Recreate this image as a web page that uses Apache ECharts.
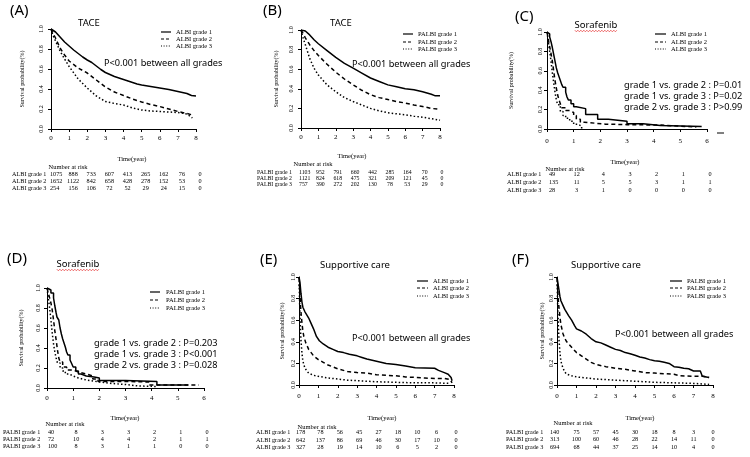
<!DOCTYPE html>
<html><head><meta charset="utf-8">
<script src="https://cdn.jsdelivr.net/npm/echarts@6/dist/echarts.min.js"></script>
<style>html,body{margin:0;padding:0;background:#fff}#c{width:750px;height:457px}</style>
</head><body><div id="c"></div>
<script>
// ---------- DATA ----------
const panelLetters = ['(A)','(B)','(C)','(D)','(E)','(F)'];
const panelTitles = ['TACE','TACE','Sorafenib','Sorafenib','Supportive care','Supportive care'];
const albiNames = ['ALBI grade 1','ALBI grade 2','ALBI grade 3'];
const palbiNames = ['PALBI grade 1','PALBI grade 2','PALBI grade 3'];
const pTextA = ['P<0.001 between all grades'];
const pTextB = ['P<0.001 between all grades'];
const pTextC = ['grade 1 vs. grade 2 : P=0.01','grade 1 vs. grade 3 : P=0.02','grade 2 vs. grade 3 : P>0.99'];
const pTextD = ['grade 1 vs. grade 2 : P=0.203','grade 1 vs. grade 3 : P<0.001','grade 2 vs. grade 3 : P=0.028'];
const pTextE = ['P<0.001 between all grades'];
const pTextF = ['P<0.001 between all grades'];
const xAxisName = 'Time(year)';
const yAxisName = 'Survival probability(%)';
const riskTitle = 'Number at risk';
const xMaxes = [8, 8, 6, 6, 8, 8];

// (A) TACE ALBI
const aG1 = [[0,1],[0.1,0.995],[0.25,0.97],[0.5,0.92],[0.75,0.87],[1,0.83],[1.25,0.79],[1.5,0.755],[1.75,0.72],[2,0.69],[2.25,0.665],[2.5,0.63],[2.75,0.595],[3,0.565],[3.25,0.545],[3.5,0.525],[3.75,0.51],[4,0.495],[4.25,0.48],[4.5,0.465],[4.75,0.45],[5,0.44],[5.5,0.425],[6,0.41],[6.5,0.395],[7,0.375],[7.5,0.355],[7.75,0.335],[8,0.33]];
const aG2 = [[0,1],[0.1,0.96],[0.25,0.91],[0.5,0.81],[0.75,0.74],[1,0.68],[1.5,0.61],[2,0.56],[2.5,0.49],[3,0.42],[3.5,0.37],[4,0.335],[4.5,0.3],[5,0.27],[5.5,0.245],[6,0.225],[6.5,0.2],[7,0.175],[7.5,0.155],[7.8,0.14]];
const aG3 = [[0,1],[0.1,0.94],[0.25,0.88],[0.5,0.78],[0.75,0.7],[1,0.625],[1.5,0.5],[2,0.41],[2.5,0.33],[3,0.275],[3.5,0.255],[4,0.24],[4.5,0.21],[5,0.19],[5.5,0.18],[6,0.175],[6.5,0.17],[7,0.165],[7.5,0.15],[7.8,0.11]];
// (B) TACE PALBI
const bG1 = [[0,1],[0.25,0.99],[0.5,0.95],[0.75,0.9],[1,0.86],[1.5,0.79],[2,0.72],[2.5,0.66],[3,0.61],[3.5,0.56],[4,0.51],[4.5,0.475],[5,0.44],[5.5,0.42],[6,0.4],[6.5,0.39],[7,0.37],[7.5,0.345],[7.7,0.33],[8,0.33]];
const bG2 = [[0,1],[0.1,0.97],[0.25,0.92],[0.5,0.85],[0.75,0.79],[1,0.74],[1.5,0.65],[2,0.57],[2.5,0.5],[3,0.44],[3.5,0.385],[4,0.34],[4.5,0.31],[5,0.29],[5.5,0.27],[6,0.255],[6.5,0.235],[7,0.22],[7.5,0.2],[8,0.19]];
const bG3 = [[0,1],[0.1,0.93],[0.25,0.85],[0.5,0.71],[0.75,0.61],[1,0.54],[1.5,0.44],[2,0.37],[2.5,0.31],[3,0.27],[3.5,0.235],[4,0.2],[4.5,0.175],[5,0.155],[5.5,0.145],[6,0.135],[6.5,0.12],[7,0.11],[7.5,0.095],[8,0.08]];
// (C) Sorafenib ALBI
const cG1 = [[0,1],[0.05,0.98],[0.1,0.95],[0.15,0.9],[0.2,0.84],[0.25,0.77],[0.3,0.7],[0.35,0.63],[0.4,0.58],[0.45,0.54],[0.5,0.5],[0.55,0.46],[0.6,0.43],[0.7,0.38],[0.75,0.33],[0.8,0.3],[0.9,0.26],[1.0,0.23],[1.1,0.21],[1.45,0.15],[1.9,0.1],[2.3,0.08],[3.0,0.055],[3.6,0.035],[4.25,0.025],[5.8,0.025]];
const cG2 = [[0,1],[0.05,0.92],[0.1,0.85],[0.15,0.78],[0.2,0.7],[0.25,0.6],[0.3,0.5],[0.35,0.42],[0.4,0.35],[0.45,0.3],[0.5,0.26],[0.55,0.22],[0.7,0.19],[0.85,0.17],[1.0,0.14],[1.1,0.1],[1.25,0.07],[1.4,0.05],[2.2,0.045],[3.0,0.04],[4.3,0.02],[5.6,0.02]];
const cG3 = [[0,1],[0.05,0.9],[0.1,0.8],[0.15,0.7],[0.2,0.58],[0.25,0.48],[0.3,0.38],[0.35,0.3],[0.4,0.25],[0.5,0.18],[0.6,0.14],[0.7,0.11],[0.85,0.08],[1.0,0.05],[1.15,0.03],[1.3,0.0]];
// (D) Sorafenib PALBI
const dG1 = [[0,1],[0.05,0.98],[0.15,0.95],[0.25,0.9],[0.3,0.82],[0.35,0.75],[0.38,0.71],[0.45,0.68],[0.5,0.6],[0.55,0.54],[0.6,0.49],[0.65,0.45],[0.7,0.41],[0.75,0.36],[0.8,0.33],[0.88,0.28],[0.95,0.24],[1.0,0.21],[1.1,0.17],[1.2,0.14],[1.3,0.12],[1.5,0.11],[1.8,0.1],[2.0,0.075],[3.0,0.065],[4.2,0.03],[5.4,0.03]];
const dG2 = [[0,1],[0.05,0.95],[0.1,0.9],[0.15,0.85],[0.2,0.78],[0.25,0.68],[0.3,0.57],[0.35,0.48],[0.4,0.38],[0.45,0.3],[0.5,0.26],[0.6,0.21],[0.75,0.18],[1.0,0.16],[1.2,0.14],[1.5,0.12],[1.75,0.09],[1.95,0.065],[3.0,0.06],[3.9,0.03],[5.8,0.03]];
const dG3 = [[0,1],[0.05,0.9],[0.1,0.8],[0.15,0.68],[0.2,0.55],[0.25,0.44],[0.3,0.36],[0.35,0.3],[0.4,0.25],[0.5,0.2],[0.6,0.17],[0.7,0.14],[0.85,0.12],[1.0,0.1],[1.2,0.08],[1.5,0.06],[2.0,0.045],[2.5,0.035],[3.0,0.02],[3.5,0.015],[4.2,0.01]];
// (E) Supportive care ALBI
const eG1 = [[0,1],[0.05,0.95],[0.1,0.85],[0.15,0.77],[0.2,0.72],[0.3,0.68],[0.4,0.65],[0.5,0.62],[0.6,0.58],[0.75,0.52],[0.9,0.45],[1.05,0.41],[1.25,0.38],[1.5,0.35],[1.75,0.33],[2,0.31],[2.3,0.3],[2.6,0.285],[3.0,0.27],[3.25,0.255],[3.5,0.24],[4.0,0.22],[4.5,0.2],[5.0,0.19],[5.5,0.175],[6.0,0.16],[7.0,0.155],[7.2,0.135],[7.5,0.115],[7.7,0.1],[7.85,0.07],[7.9,0.04]];
const eG2 = [[0,1],[0.03,0.9],[0.06,0.8],[0.1,0.68],[0.15,0.58],[0.2,0.5],[0.25,0.45],[0.35,0.39],[0.5,0.33],[0.75,0.27],[1.0,0.235],[1.25,0.21],[1.5,0.185],[2.0,0.15],[2.5,0.125],[3.0,0.115],[3.5,0.11],[4.0,0.095],[4.5,0.09],[5.0,0.085],[5.5,0.075],[6.0,0.07],[6.5,0.065],[7.0,0.06],[7.5,0.06],[7.8,0.05],[7.9,0.02]];
const eG3 = [[0,1],[0.02,0.85],[0.04,0.7],[0.07,0.55],[0.1,0.42],[0.15,0.3],[0.2,0.22],[0.3,0.16],[0.4,0.13],[0.5,0.11],[0.75,0.09],[1.0,0.08],[1.5,0.065],[2.0,0.055],[2.5,0.045],[3.0,0.04],[4.0,0.03],[5.0,0.025],[6.0,0.02],[7.0,0.02],[7.8,0.015]];
// (F) Supportive care PALBI
const fG1 = [[0,1],[0.05,0.94],[0.1,0.88],[0.15,0.82],[0.2,0.78],[0.3,0.74],[0.4,0.7],[0.5,0.67],[0.6,0.64],[0.75,0.6],[0.9,0.55],[1.0,0.52],[1.25,0.5],[1.5,0.47],[1.75,0.43],[2.0,0.4],[2.25,0.39],[2.5,0.37],[2.75,0.35],[3.0,0.33],[3.25,0.32],[3.5,0.3],[3.75,0.29],[4.0,0.275],[4.25,0.26],[4.5,0.25],[4.75,0.235],[5.0,0.225],[5.25,0.22],[5.5,0.21],[5.75,0.2],[6.0,0.17],[6.25,0.165],[6.5,0.155],[6.75,0.15],[7.0,0.13],[7.35,0.13],[7.45,0.08],[7.8,0.07]];
const fG2 = [[0,1],[0.03,0.9],[0.06,0.8],[0.1,0.72],[0.15,0.63],[0.2,0.56],[0.3,0.48],[0.4,0.43],[0.5,0.4],[0.75,0.35],[1.0,0.3],[1.25,0.27],[1.5,0.24],[1.75,0.21],[2.0,0.19],[2.5,0.17],[3.0,0.155],[3.5,0.145],[4.0,0.13],[4.5,0.115],[5.0,0.11],[5.5,0.105],[6.0,0.1],[6.3,0.085],[7.0,0.08],[7.5,0.08],[7.8,0.07]];
const fG3 = [[0,1],[0.02,0.85],[0.04,0.7],[0.07,0.55],[0.1,0.43],[0.15,0.3],[0.2,0.22],[0.3,0.16],[0.4,0.12],[0.5,0.1],[0.75,0.085],[1.0,0.075],[1.5,0.065],[2.0,0.055],[2.5,0.05],[3.0,0.045],[3.5,0.04],[4.0,0.035],[5.0,0.025],[6.0,0.02],[7.0,0.015],[7.8,0.005]];

// Number at risk tables
const riskA1 = [1075,888,733,607,413,265,162,76,0];
const riskA2 = [1652,1122,842,658,428,278,152,53,0];
const riskA3 = [254,156,106,72,52,29,24,15,0];
const riskB1 = [1103,952,791,660,442,285,164,70,0];
const riskB2 = [1121,824,618,475,321,209,121,45,0];
const riskB3 = [757,390,272,202,130,78,53,29,0];
const riskC1 = [49,12,4,3,2,1,0];
const riskC2 = [135,11,5,5,3,1,1];
const riskC3 = [28,3,1,0,0,0,0];
const riskD1 = [40,8,3,3,2,1,0];
const riskD2 = [72,10,4,4,2,1,1];
const riskD3 = [100,8,3,1,1,0,0];
const riskE1 = [178,78,56,45,27,18,10,6,0];
const riskE2 = [642,137,86,69,46,30,17,10,0];
const riskE3 = [327,28,19,14,10,6,5,2,0];
const riskF1 = [140,75,57,45,30,18,8,3,0];
const riskF2 = [313,100,60,46,28,22,14,11,0];
const riskF3 = [694,68,44,37,25,14,10,4,0];

// ---------- ASSEMBLY ----------
const curves = [[aG1,aG2,aG3],[bG1,bG2,bG3],[cG1,cG2,cG3],[dG1,dG2,dG3],[eG1,eG2,eG3],[fG1,fG2,fG3]];
const risks = [[riskA1,riskA2,riskA3],[riskB1,riskB2,riskB3],[riskC1,riskC2,riskC3],[riskD1,riskD2,riskD3],[riskE1,riskE2,riskE3],[riskF1,riskF2,riskF3]];
const names = [albiNames, palbiNames, albiNames, palbiNames, albiNames, palbiNames];
const pTexts = [pTextA,pTextB,pTextC,pTextD,pTextE,pTextF];
const stepped = [false,false,true,true,false,false];

const SERIF = "'Liberation Serif','Times New Roman',serif";
const SANS = "'Noto Sans','Open Sans',sans-serif";

const L = [
 {grid:{left:51,top:29,width:145,height:100}, letter:[10,11], title:[89,23], ul:false, leg:[161,171,176], legY:[32,39,46], p:[104,[63]], time:[132,159], nar:[68,167], rowX:12, rowY:[174,181,188], col0:50, dx:4, rowFont:6.2, nameGap:26, yM:7, xM:6},
 {grid:{left:301,top:30,width:139,height:98}, letter:[263,11], title:[341,23], ul:false, leg:[403,413,418], legY:[34,42,49], p:[352,[64]], time:[352,156], nar:[313,164], rowX:257, rowY:[172,178,184], col0:299, dx:2, rowFont:5.8, nameGap:22, yM:7, xM:6},
 {grid:{left:547,top:32,width:160,height:97}, letter:[515,17], title:[596,25], ul:true, leg:[655,666,671], legY:[34,42,49], p:[624,[85,96,107]], time:[625,162], nar:[565,169], rowX:507, rowY:[174,182,190], col0:549, dx:3, rowFont:6.2, nameGap:33, yM:4, xM:9},
 {grid:{left:47,top:288,width:157,height:100}, letter:[7,259], title:[78,264], ul:true, leg:[150,160,166], legY:[292,300,308], p:[94,[343,354,365]], time:[125,418], nar:[65,424], rowX:3, rowY:[432,439,446], col0:48, dx:3, rowFont:6.2, nameGap:23, yM:6, xM:7},
 {grid:{left:299,top:277,width:155,height:108}, letter:[260,260], title:[355,265], ul:false, leg:[417,428,433], legY:[281,288,296], p:[352,[338]], time:[382,418], nar:[317,427], rowX:256, rowY:[432,440,447], col0:296, dx:2, rowFont:6.2, nameGap:14, yM:3, xM:8},
 {grid:{left:557,top:277,width:156,height:108}, letter:[512,260], title:[606,265], ul:false, leg:[670,682,687], legY:[281,288,296], p:[615,[334]], time:[640,418], nar:[573,423], rowX:506, rowY:[432,439,447], col0:550, dx:0, rowFont:6.2, nameGap:12, yM:3, xM:8}
];
const lineTypes = [{type:'solid',width:1.5},{type:[4,3],width:1.5},{type:[1.5,2.2],width:1.5}];

const grids = [], xAxes = [], yAxes = [], series = [];
L.forEach((l, p) => {
  grids.push(Object.assign({containLabel:false}, l.grid));
  xAxes.push({gridIndex:p, type:'value', min:0, max:xMaxes[p], interval:1,
    axisLine:{onZero:false, lineStyle:{color:'#000', width:1}},
    axisTick:{length:3, lineStyle:{color:'#000'}},
    axisLabel:{fontSize:7, fontFamily:SERIF, color:'#000', margin:l.xM},
    splitLine:{show:false}});
  yAxes.push({gridIndex:p, type:'value', min:0, max:1, interval:0.2,
    axisLine:{show:true, lineStyle:{color:'#000', width:1}},
    axisTick:{show:true, length:3, lineStyle:{color:'#000'}},
    axisLabel:{rotate:90, fontSize:6, fontFamily:SERIF, color:'#000', margin:l.yM, formatter:v=>v.toFixed(1)},
    splitLine:{show:false},
    name:yAxisName, nameLocation:'middle', nameGap:l.nameGap, nameRotate:90,
    nameTextStyle:{fontSize:6, fontFamily:SERIF, color:'#000'}});
  curves[p].forEach((d, k) => {
    series.push({type:'line', xAxisIndex:p, yAxisIndex:p, name:names[p][k], data:d,
      step: stepped[p] ? 'end' : false, showSymbol:false, symbol:'none', smooth:false,
      lineStyle:{color:'#000', width:lineTypes[k].width, type:lineTypes[k].type},
      animation:false, silent:true});
  });
});

const chart = echarts.init(document.getElementById('c'), null, {renderer:'canvas'});
chart.setOption({backgroundColor:'#fff', animation:false, grid:grids, xAxis:xAxes, yAxis:yAxes, series:series});

function txt(x, y, text, font, align, fill) {
  return {type:'text', x:x, y:y, silent:true,
    style:{text:text, font:font, fill:fill||'#000', textAlign:align||'left', align:align||'left', textVerticalAlign:'middle', verticalAlign:'middle'}};
}
const els = [];
L.forEach((l, p) => {
  els.push(txt(l.letter[0], l.letter[1], panelLetters[p], '15px ' + SANS, 'left'));
  els.push(txt(l.title[0], l.title[1], panelTitles[p], '9.5px ' + SANS, 'center'));
  if (l.ul) {
    const w = panelTitles[p].length * 4.7;
    const x0 = l.title[0] - w/2, y0 = l.title[1] + 6;
    const pts = [];
    for (let x = 0, i = 0; x <= w; x += 1.5, i++) pts.push([x0 + x, y0 + (i % 2 ? 0.8 : -0.8)]);
    els.push({type:'polyline', silent:true, shape:{points:pts}, style:{stroke:'#e53030', lineWidth:0.7, fill:null}});
  }
  // legend
  for (let k = 0; k < 3; k++) {
    const y = l.legY[k];
    els.push({type:'line', silent:true, shape:{x1:l.leg[0], y1:y, x2:l.leg[1], y2:y},
      style:{stroke:'#000', lineWidth:1.2, lineDash: k === 0 ? null : (k === 1 ? [3,2] : [1,1.6])}});
    els.push(txt(l.leg[2], y, names[p][k], '6.5px ' + SERIF, 'left'));
  }
  // p-values
  pTexts[p].forEach((t, i) => els.push(txt(l.p[0], l.p[1][i], t, '9.2px ' + SANS, 'left')));
  // axis title + risk table
  els.push(txt(l.time[0], l.time[1], xAxisName, '6.5px ' + SERIF, 'center'));
  els.push(txt(l.nar[0], l.nar[1], riskTitle, '6.5px ' + SERIF, 'center'));
  const rf = l.rowFont + 'px ' + SERIF;
  for (let r = 0; r < 3; r++) {
    const y = l.rowY[r];
    els.push(txt(l.rowX, y, names[p][r], rf, 'left'));
    risks[p][r].forEach((v, i) => {
      if (i === 0) { els.push(txt(l.col0, y, String(v), rf, 'left')); return; }
      const px = chart.convertToPixel({xAxisIndex:p}, i) + l.dx;
      els.push(txt(px, y, String(v), rf, 'center'));
    });
  }
});
// small dash to the right of panel C's x-axis
els.push({type:'line', silent:true, shape:{x1:717, y1:133, x2:724, y2:133}, style:{stroke:'#000', lineWidth:1}});
chart.setOption({graphic:{elements:els}});
</script></body></html>
